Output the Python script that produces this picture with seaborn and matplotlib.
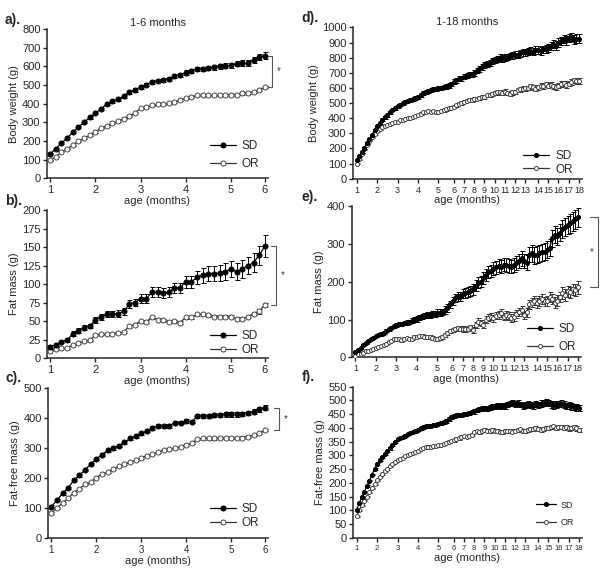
import numpy as np
import pandas as pd
import matplotlib.pyplot as plt
import seaborn as sns

# ---- 1-6 months (39 measurements) ----
months_6 = ["1", "2", "3", "4", "5", "6"]
month_idx_6 = [0, 8, 16, 24, 32, 38]

bw_sd = [131, 158, 188, 215, 247, 274, 301, 326, 349, 372, 397, 412, 424, 439, 462,
         474, 489, 501, 515, 524, 528, 532, 546, 555, 567, 576, 587, 587, 591, 594,
         600, 603, 605, 614, 617, 617, 632, 650, 658]
bw_sd_err = [4, 5, 5, 5, 6, 6, 6, 7, 7, 7, 7, 8, 8, 8, 8, 9, 9, 9, 10, 10,
             10, 10, 11, 11, 11, 12, 12, 12, 13, 13, 13, 14, 14, 14, 15, 15, 16, 17, 18]
bw_or = [97, 115, 141, 159, 177, 199, 213, 231, 249, 267, 281, 294, 306, 320, 333,
         351, 374, 383, 390, 396, 397, 401, 410, 419, 428, 437, 444, 446, 444, 444,
         444, 446, 446, 449, 455, 458, 464, 473, 490]
bw_or_err = [3, 3, 3, 3, 3, 3, 4, 4, 4, 4, 4, 4, 4, 4, 4, 4, 5, 5, 5, 5,
             5, 5, 5, 5, 5, 5, 5, 5, 5, 5, 5, 5, 5, 5, 6, 6, 6, 6, 6]

fm_sd = [15, 18, 22, 24, 33, 37, 41, 43, 52, 55, 59, 60, 60, 63, 73, 75, 80, 80, 89, 89,
         88, 89, 95, 95, 103, 103, 109, 112, 114, 114, 115, 117, 120, 117, 120, 125, 129, 139, 151]
fm_sd_err = [2, 2, 2, 3, 3, 3, 3, 3, 4, 4, 4, 4, 5, 5, 5, 5, 6, 6, 7, 7,
             7, 7, 7, 7, 8, 8, 9, 10, 10, 10, 11, 11, 11, 12, 12, 12, 13, 13, 15]
fm_or = [10, 12, 13, 13, 18, 20, 23, 24, 31, 32, 32, 33, 34, 35, 43, 45, 50, 49, 55, 52,
         51, 49, 50, 48, 55, 55, 59, 59, 58, 56, 56, 56, 56, 53, 53, 56, 60, 63, 72]
fm_or_err = [1, 1, 1, 1, 1, 1, 1, 1, 1, 1, 1, 1, 1, 1, 2, 2, 2, 2, 2, 2,
             2, 2, 2, 2, 2, 2, 2, 2, 2, 2, 2, 2, 2, 2, 2, 2, 2, 3, 3]

ffm_sd = [104, 126, 148, 167, 192, 208, 227, 245, 263, 277, 291, 299, 307, 318, 331,
          338, 349, 356, 365, 373, 373, 373, 384, 384, 389, 387, 406, 406, 406, 408,
          409, 411, 411, 411, 413, 417, 420, 428, 433]
ffm_sd_err = [4, 4, 4, 4, 4, 4, 4, 4, 4, 4, 5, 5, 5, 5, 5, 5, 5, 5, 6, 6,
              6, 6, 6, 6, 6, 6, 7, 7, 7, 7, 7, 7, 7, 7, 7, 7, 8, 8, 8]
ffm_or = [82, 99, 117, 132, 150, 164, 178, 186, 201, 212, 219, 230, 238, 245, 252,
          258, 266, 274, 280, 285, 293, 296, 299, 304, 310, 315, 329, 331, 331, 331,
          332, 332, 332, 332, 334, 337, 342, 349, 359]
ffm_or_err = [3, 3, 3, 3, 3, 3, 3, 3, 3, 3, 3, 3, 3, 3, 3, 3, 3, 3, 3, 3,
              3, 3, 3, 3, 4, 4, 4, 4, 4, 4, 4, 4, 4, 4, 4, 4, 4, 4, 4]

# ---- 1-18 months (88 measurements) ----
months_18 = [str(m) for m in range(1, 19)]
month_idx_18 = [0, 8, 16, 24, 32, 38, 42, 46, 50, 54, 58, 62, 66, 71, 75, 79, 83, 87]

bw18_sd = [125, 150, 175, 205, 235, 265, 290, 320, 350,
           370, 390, 405, 420, 440, 455, 465, 480,
           490, 500, 510, 515, 520, 525, 535, 540,
           555, 565, 575, 580, 585, 590, 595, 600,
           600, 605, 610, 615, 625, 640,
           650, 660, 665, 675,
           680, 690, 690, 700,
           715, 725, 740, 750,
           760, 765, 780, 785,
           790, 800, 795, 800,
           805, 810, 815, 820,
           820, 830, 835, 835,
           840, 845, 840, 850, 850,
           845, 855, 860, 865,
           875, 890, 880, 900,
           910, 925, 915, 930,
           935, 920, 925, 925]
bw18_sd_err = [5, 5, 6, 6, 6, 7, 7, 7, 8,
               8, 8, 8, 9, 9, 9, 10, 10,
               10, 10, 10, 11, 11, 11, 12, 12,
               12, 12, 12, 13, 13, 13, 13, 14,
               14, 14, 15, 15, 15, 16,
               16, 16, 17, 17,
               17, 18, 18, 18,
               19, 19, 19, 20,
               20, 20, 20, 21,
               21, 21, 21, 22,
               22, 22, 22, 23,
               23, 23, 23, 24,
               24, 24, 24, 25, 25,
               25, 25, 26, 26,
               26, 26, 27, 27,
               27, 27, 28, 28,
               28, 28, 29, 29]
bw18_or = [100, 130, 165, 195, 225, 250, 275, 295, 315,
           330, 340, 350, 355, 360, 365, 372, 378,
           385, 390, 395, 398, 400, 405, 415, 422,
           430, 438, 440, 445, 442, 445, 440, 444,
           448, 452, 460, 465, 470, 477,
           485, 495, 500, 510,
           515, 520, 518, 526,
           530, 535, 540, 543,
           550, 555, 560, 565,
           570, 575, 568, 576,
           565, 560, 570, 572,
           585, 590, 595, 598,
           600, 610, 605, 595, 605,
           615, 610, 625, 614,
           620, 610, 605, 615,
           625, 630, 620, 628,
           640, 650, 645, 645]
bw18_or_err = [3, 3, 3, 3, 4, 4, 4, 4, 5,
               5, 5, 5, 5, 6, 6, 6, 6,
               6, 6, 7, 7, 7, 7, 7, 8,
               8, 8, 8, 8, 9, 9, 9, 9,
               9, 9, 10, 10, 10, 10,
               10, 11, 11, 11,
               11, 11, 12, 12,
               12, 12, 12, 13,
               13, 13, 13, 13,
               14, 14, 14, 14,
               14, 14, 15, 15,
               15, 15, 15, 15,
               16, 16, 16, 16, 16,
               17, 17, 17, 17,
               17, 17, 18, 18,
               18, 18, 18, 18,
               18, 18, 18, 18]

fm18_sd = [14, 20, 25, 32, 38, 44, 48, 52, 56,
           60, 62, 65, 70, 74, 78, 82, 85,
           88, 88, 90, 92, 94, 97, 100, 102,
           106, 108, 110, 112, 113, 114, 116, 118,
           118, 120, 125, 130, 140, 150,
           158, 162, 160, 168,
           170, 172, 175, 180,
           190, 198, 200, 210,
           218, 225, 228, 235,
           238, 242, 240, 245,
           245, 242, 240, 244,
           250, 255, 262, 255,
           250, 272, 275, 270, 272,
           275, 278, 280, 285,
           290, 315, 325, 320,
           330, 340, 345, 350,
           355, 360, 365, 370]
fm18_sd_err = [2, 2, 2, 2, 3, 3, 3, 3, 3,
               3, 4, 4, 4, 4, 4, 5, 5,
               5, 5, 5, 6, 6, 6, 6, 7,
               7, 7, 7, 8, 8, 8, 8, 9,
               9, 9, 10, 10, 10, 11,
               11, 12, 12, 12,
               13, 13, 13, 14,
               14, 14, 15, 15,
               15, 16, 16, 16,
               17, 17, 17, 17,
               18, 18, 18, 18,
               18, 19, 19, 19,
               20, 20, 22, 22, 22,
               22, 22, 22, 22,
               22, 22, 23, 23,
               23, 24, 24, 24,
               25, 25, 25, 26]
fm18_or = [5, 8, 10, 13, 16, 18, 20, 22, 25,
           28, 30, 32, 35, 40, 44, 48, 50,
           48, 45, 50, 52, 48, 50, 55, 55,
           56, 57, 55, 54, 55, 52, 50, 48,
           52, 55, 60, 65, 70, 72,
           75, 78, 76, 75,
           74, 76, 80, 72,
           85, 95, 92, 85,
           100, 105, 108, 104,
           110, 112, 118, 108,
           112, 110, 105, 108,
           115, 120, 125, 112,
           120, 140, 145, 150, 145,
           150, 155, 148, 150,
           160, 155, 145, 150,
           160, 170, 165, 175,
           172, 180, 178, 185]
fm18_or_err = [1, 1, 1, 1, 1, 2, 2, 2, 2,
               2, 2, 2, 2, 3, 3, 3, 3,
               3, 3, 3, 3, 3, 4, 4, 4,
               4, 4, 4, 4, 4, 5, 5, 5,
               5, 5, 5, 6, 6, 6,
               6, 6, 7, 7,
               7, 7, 7, 8,
               8, 8, 8, 8,
               9, 9, 9, 9,
               9, 10, 10, 10,
               10, 10, 10, 11,
               11, 11, 11, 11,
               12, 12, 12, 12, 13,
               13, 13, 13, 13,
               14, 14, 14, 14,
               14, 15, 15, 15,
               15, 15, 16, 16]

ffm18_sd = [103, 125, 147, 167, 188, 208, 230, 250, 268,
            282, 295, 305, 315, 325, 338, 348, 358,
            362, 368, 372, 378, 380, 385, 388, 392,
            398, 402, 405, 405, 408, 410, 412, 415,
            418, 420, 425, 432, 438, 442,
            445, 448, 445, 450,
            452, 455, 458, 460,
            465, 468, 470, 472,
            470, 475, 478, 476,
            480, 478, 482, 480,
            485, 488, 490, 487,
            490, 485, 480, 484,
            488, 482, 478, 485, 484,
            488, 490, 492, 490,
            485, 482, 484, 486,
            488, 485, 480, 482,
            478, 476, 474, 472]
ffm18_sd_err = [3, 3, 3, 3, 3, 3, 3, 3, 3,
                3, 3, 3, 4, 4, 4, 4, 4,
                4, 4, 4, 4, 4, 4, 5, 5,
                5, 5, 5, 5, 5, 5, 5, 6,
                6, 6, 6, 6, 6, 7,
                7, 7, 7, 7,
                7, 8, 8, 8,
                8, 8, 8, 8,
                9, 9, 9, 9,
                9, 9, 9, 10,
                10, 10, 10, 10,
                10, 10, 11, 11,
                11, 11, 11, 11, 11,
                12, 12, 12, 12,
                12, 12, 12, 12,
                12, 12, 12, 12,
                12, 12, 12, 12]
ffm18_or = [78, 100, 118, 135, 150, 165, 180, 195, 210,
            222, 232, 242, 250, 260, 268, 275, 282,
            288, 292, 298, 300, 305, 308, 312, 315,
            322, 328, 330, 332, 332, 333, 334, 336,
            338, 340, 345, 350, 352, 355,
            360, 362, 368, 370,
            368, 372, 375, 385,
            388, 385, 390, 392,
            390, 388, 392, 390,
            388, 386, 385, 388,
            390, 388, 386, 390,
            392, 394, 390, 388,
            392, 396, 394, 398, 395,
            392, 396, 400, 398,
            402, 405, 400, 404,
            402, 400, 404, 398,
            400, 402, 398, 392]
ffm18_or_err = [2, 2, 2, 2, 2, 2, 2, 2, 2,
                2, 3, 3, 3, 3, 3, 3, 3,
                3, 3, 3, 3, 3, 3, 3, 4,
                4, 4, 4, 4, 4, 4, 4, 4,
                4, 4, 4, 5, 5, 5,
                5, 5, 5, 5,
                5, 5, 5, 5,
                5, 6, 6, 6,
                6, 6, 6, 6,
                6, 6, 6, 6,
                6, 6, 6, 6,
                6, 7, 7, 7,
                7, 7, 7, 7, 7,
                7, 7, 7, 7,
                7, 7, 7, 7,
                7, 8, 8, 8,
                8, 8, 8, 8]

sns.set_style("ticks")
plt.rcParams["font.family"] = ["Liberation Sans", "DejaVu Sans"]

fig = plt.figure(figsize=(6, 5.71), dpi=100)


def draw(rect, sd, sd_err, orv, or_err, ticks, labels, ylim, ystep, ylabel,
         ms, xfs, leg_anchor, leg_fs, leg_sp, title=None, panel=None, panel_x=None):
    ax = fig.add_axes(rect)
    x = np.arange(len(sd))
    df = pd.DataFrame({"idx": np.concatenate([x, x]),
                       "val": sd + orv,
                       "grp": ["SD"] * len(sd) + ["OR"] * len(orv)})
    ax.errorbar(x, orv, yerr=or_err, fmt="none", ecolor="#333333",
                elinewidth=0.7, capsize=1.8, capthick=0.7, zorder=2)
    ax.errorbar(x, sd, yerr=sd_err, fmt="none", ecolor="black",
                elinewidth=0.7, capsize=1.8, capthick=0.7, zorder=3)
    sns.lineplot(data=df[df.grp == "SD"], x="idx", y="val", ax=ax, color="black",
                 marker="o", markersize=ms, markeredgecolor="black", lw=0.9,
                 label="SD", zorder=5)
    sns.lineplot(data=df[df.grp == "OR"], x="idx", y="val", ax=ax, color="#333333",
                 marker="o", markersize=ms, markerfacecolor="white",
                 markeredgecolor="#444444", markeredgewidth=0.7, lw=0.9,
                 label="OR", zorder=4)
    ax.set_xticks(ticks)
    ax.set_xticklabels(labels, fontsize=xfs)
    ax.set_ylim(*ylim)
    ax.set_yticks(np.arange(ylim[0], ylim[1] + 1, ystep))
    ax.tick_params(axis="y", labelsize=8, length=3, width=1, pad=1.5)
    ax.tick_params(axis="x", length=3, width=1, pad=2)
    if len(sd) < 50:
        ax.set_xlim(-0.6, len(sd) - 0.4)
    else:
        ax.set_xlim(-1.5, len(sd) + 0.2)
    ax.set_xlabel("age (months)", fontsize=8, labelpad=0.5)
    ax.set_ylabel(ylabel, fontsize=8, labelpad=2)
    for s in ["top", "right"]:
        ax.spines[s].set_visible(False)
    for s in ["left", "bottom"]:
        ax.spines[s].set_linewidth(1.1)
    ax.legend(frameon=False, loc="lower right", bbox_to_anchor=leg_anchor,
              fontsize=leg_fs, handlelength=2.2, handletextpad=0.5,
              labelspacing=leg_sp, borderaxespad=0)
    if title:
        ax.set_title(title, fontsize=8, pad=2)
    if panel:
        px = rect[0] - 0.07 if panel_x is None else panel_x
        fig.text(px, rect[1] + rect[3] + 0.004, panel,
                 fontsize=10, fontweight="bold", va="bottom")
    return ax


def bracket(ax, xpos, top, bottom, star_dx=1.2, arm=0.8):
    ax.plot([xpos - arm, xpos, xpos, xpos - arm], [top, top, bottom, bottom],
            color="#555555", lw=0.8, clip_on=False)
    ax.text(xpos + star_dx, (top + bottom) / 2, "*", fontsize=7,
            ha="center", va="center", color="#333333")


ax_a = draw([0.078, 0.688, 0.369, 0.261], bw_sd, bw_sd_err, bw_or, bw_or_err,
            month_idx_6, months_6, (0, 800), 100, "Body weight (g)", 3.6, 8,
            (0.98, 0.02), 8.5, 0.55, title="1-6 months", panel="a).")
bracket(ax_a, 39.3, bw_sd[-1], bw_or[-1])

ax_b = draw([0.078, 0.373, 0.369, 0.259], fm_sd, fm_sd_err, fm_or, fm_or_err,
            month_idx_6, months_6, (0, 200), 25, "Fat mass (g)", 3.6, 8,
            (0.98, -0.02), 8.5, 0.2, panel="b).")
bracket(ax_b, 39.9, fm_sd[-1], fm_or[-1])

ax_c = draw([0.080, 0.058, 0.367, 0.263], ffm_sd, ffm_sd_err, ffm_or, ffm_or_err,
            month_idx_6, months_6, (0, 500), 100, "Fat-free mass (g)", 3.6, 7,
            (0.98, 0.03), 8.5, 0.15, panel="c).")
bracket(ax_c, 40.5, ffm_sd[-1], ffm_or[-1])

ax_d = draw([0.588, 0.687, 0.382, 0.265], bw18_sd, bw18_sd_err, bw18_or, bw18_or_err,
            month_idx_18, months_18, (0, 1000), 100, "Body weight (g)", 2.9, 6.5,
            (0.98, -0.01), 8.5, 0.15, title="1-18 months", panel="d).", panel_x=0.503)

ax_e = draw([0.586, 0.374, 0.382, 0.265], fm18_sd, fm18_sd_err, fm18_or, fm18_or_err,
            month_idx_18, months_18, (0, 400), 100, "Fat mass (g)", 2.9, 6.5,
            (1.0, 0.0), 8.5, 0.45, panel="e).", panel_x=0.503)
bracket(ax_e, 94.8, fm18_sd[-1], fm18_or[-1], star_dx=-2.5, arm=3)

ax_f = draw([0.588, 0.058, 0.382, 0.265], ffm18_sd, ffm18_sd_err, ffm18_or, ffm18_or_err,
            month_idx_18, months_18, (0, 550), 50, "Fat-free mass (g)", 2.9, 5.5,
            (0.98, 0.05), 6.5, 0.9, panel="f).", panel_x=0.503)

fig.savefig("out.png", dpi=100)
